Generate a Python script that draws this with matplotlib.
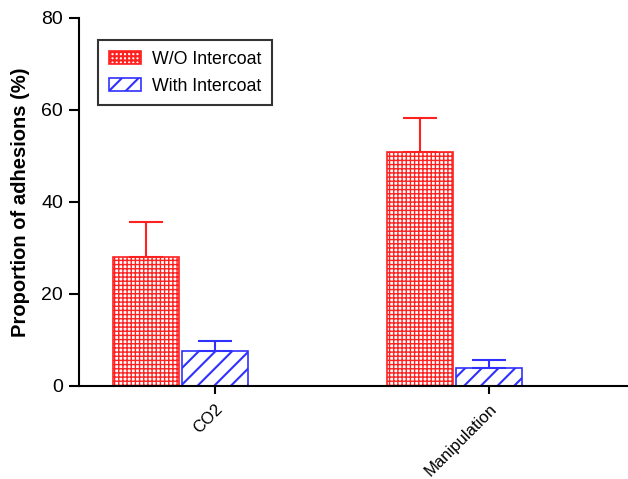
import matplotlib
matplotlib.use("Agg")
import matplotlib.pyplot as plt
import numpy as np

plt.rcParams['font.family'] = ['Liberation Sans', 'DejaVu Sans']

categories = ["CO2", "Manipulation"]
series_names = ["W/O Intercoat", "With Intercoat"]
wo_values = [28.0, 50.9]
wo_errors = [7.7, 7.4]
with_values = [7.6, 3.9]
with_errors = [2.2, 1.8]

fig = plt.figure(figsize=(6.28, 4.79), dpi=100)
ax = fig.add_axes([79/628, 1 - 386/479, 1 - 79/628, (386 - 18)/479])

x = np.arange(len(categories))
w = 0.24
off = 0.252

red = '#ff2020'
blue = '#3030ff'

plt.rcParams['hatch.linewidth'] = 1.0
b1 = ax.bar(x - off, wo_values, width=w, facecolor='white', edgecolor=red,
            hatch='++++', linewidth=1.2, label=series_names[0], zorder=2)
plt.rcParams['hatch.linewidth'] = 1.5
b2 = ax.bar(x, with_values, width=w, facecolor='white', edgecolor=blue,
            hatch='//', linewidth=1.2, label=series_names[1], zorder=2)

ax.errorbar(x - off, wo_values, yerr=[np.zeros(len(wo_errors)), wo_errors],
            fmt='none', ecolor=red, elinewidth=1.5, capsize=12, capthick=1.5, zorder=3)
ax.errorbar(x, with_values, yerr=[np.zeros(len(with_errors)), with_errors],
            fmt='none', ecolor=blue, elinewidth=1.5, capsize=12, capthick=1.5, zorder=3)

ax.set_xlim(-0.496, 1.507)
ax.set_ylim(0, 80)
ax.set_yticks([0, 20, 40, 60, 80])
ax.set_xticks(x)
ax.set_xticklabels(categories, rotation=45, ha='right', rotation_mode='anchor', fontsize=12)
ax.tick_params(axis='y', labelsize=14, length=7.5, width=1.5, direction='out', pad=4)
ax.tick_params(axis='x', length=6, width=1.5, direction='out', pad=5)

for s in ['top', 'right']:
    ax.spines[s].set_visible(False)
for s in ['left', 'bottom']:
    ax.spines[s].set_linewidth(1.5)

ax.set_ylabel('Proportion of adhesions (%)', fontsize=14.5, fontweight='bold', labelpad=8)

leg = ax.legend(loc='upper left', bbox_to_anchor=(0.035, 0.94), borderaxespad=0,
                frameon=True, fancybox=False,
                edgecolor='black', fontsize=12.8, handlelength=1.8, handleheight=0.75,
                borderpad=0.6, labelspacing=0.55, handletextpad=0.6)
leg.get_frame().set_linewidth(1.5)

fig.savefig('out.png', dpi=100)
